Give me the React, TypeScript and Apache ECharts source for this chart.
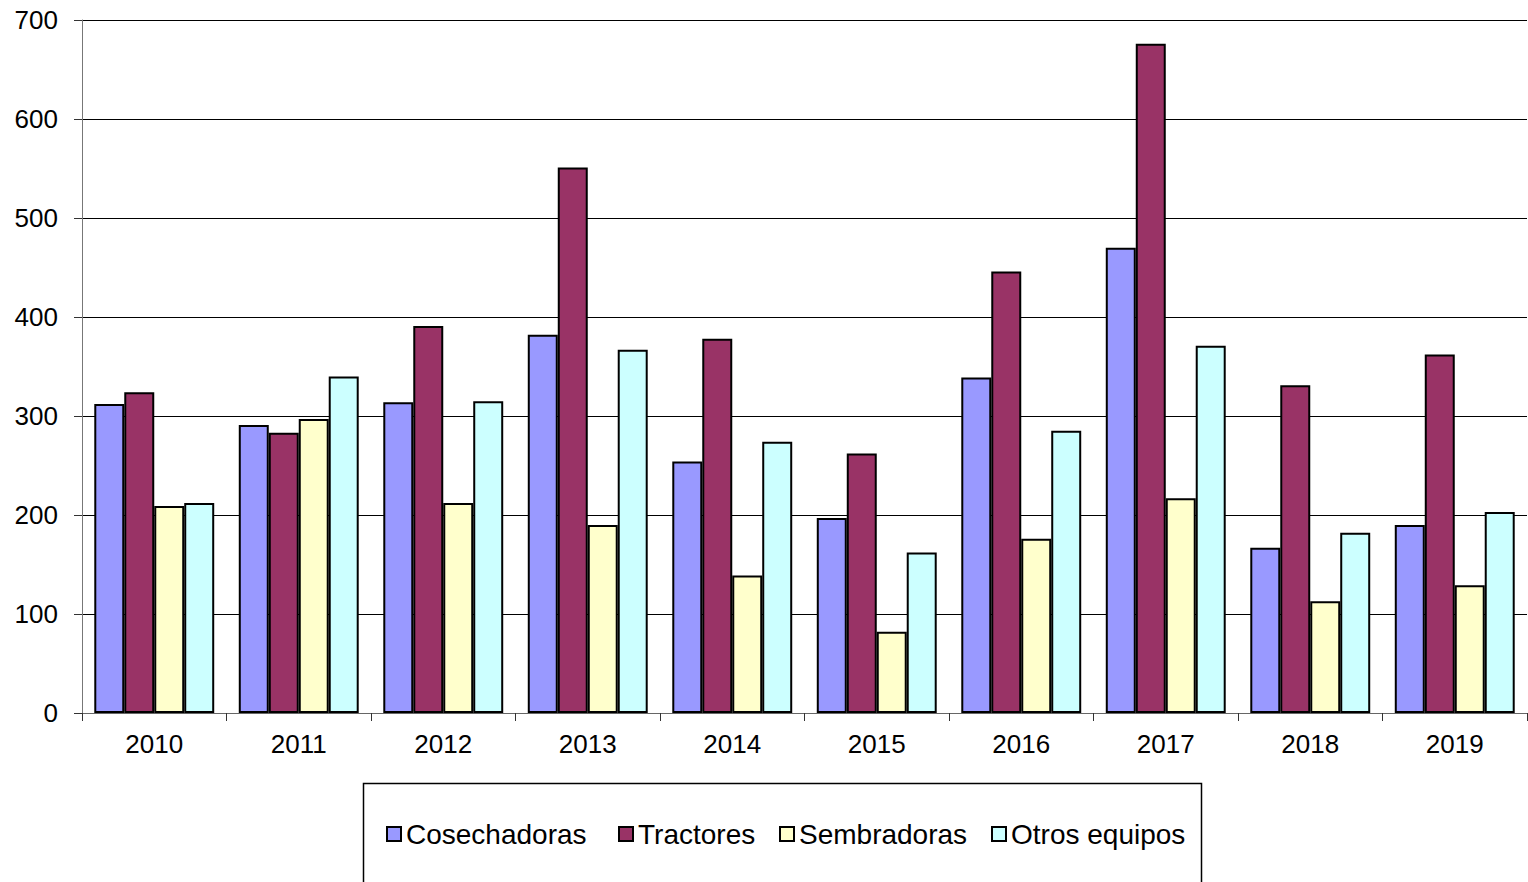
import React, { useEffect, useRef } from "react";
import * as echarts from "echarts";

const years = ["2010", "2011", "2012", "2013", "2014", "2015", "2016", "2017", "2018", "2019"];
const cosechadoras = [312, 291, 314, 382, 254, 197, 339, 470, 167, 190];
const tractores = [324, 283, 391, 551, 378, 262, 446, 676, 331, 362];
const sembradoras = [209, 297, 212, 190, 139, 82, 176, 217, 113, 129];
const otros = [212, 340, 315, 367, 274, 162, 285, 371, 182, 203];

const seriesNames = ["Cosechadoras", "Tractores", "Sembradoras", "Otros equipos"];
const seriesData = [cosechadoras, tractores, sembradoras, otros];
const colors = ["#9999FF", "#993366", "#FFFFCC", "#CCFFFF"];
const legendLefts = [381, 613, 774, 986];

export default function App() {
  const ref = useRef<HTMLDivElement>(null);
  useEffect(() => {
    if (!ref.current) return;
    const chart = echarts.init(ref.current, undefined, { renderer: "svg" });
    const font = "'Liberation Sans', Arial, sans-serif";
    chart.setOption({
      animation: false,
      backgroundColor: "#ffffff",
      textStyle: { fontFamily: font },
      grid: { left: 82, top: 20, right: 1, bottom: 169, containLabel: false },
      legend: seriesNames.map((n, i) => ({
        left: legendLefts[i],
        top: 815,
        itemWidth: 14,
        itemHeight: 14,
        itemGap: 0,
        icon: "rect",
        textStyle: { fontSize: 28, color: "#000", fontFamily: font },
        data: [n],
      })),
      graphic: [
        {
          type: "rect",
          shape: { x: 363.5, y: 783.5, width: 838, height: 120 },
          style: { fill: "none", stroke: "#000", lineWidth: 1.5 },
          silent: true,
        },
      ],
      xAxis: {
        type: "category",
        data: years,
        axisLine: { show: true, lineStyle: { color: "#666", width: 1 } },
        axisTick: { show: true, length: 8, lineStyle: { color: "#333" } },
        axisLabel: { fontSize: 26, color: "#000", margin: 18, fontFamily: font },
      },
      yAxis: {
        type: "value",
        min: 0,
        max: 700,
        interval: 100,
        axisLine: { show: true, lineStyle: { color: "#777", width: 1 } },
        axisTick: { show: true, length: 8, lineStyle: { color: "#333" } },
        axisLabel: { fontSize: 26, color: "#000", margin: 24, fontFamily: font },
        splitLine: { show: true, lineStyle: { color: "#000", width: 1 } },
      },
      series: seriesData.map((d, i) => ({
        name: seriesNames[i],
        type: "bar",
        data: d,
        barGap: "0%",
        barCategoryGap: "17%",
        itemStyle: { color: colors[i], borderColor: "#000", borderWidth: 2 },
      })),
    });
    return () => chart.dispose();
  }, []);
  return (
    <div
      ref={ref}
      style={{ position: "fixed", left: 0, top: 0, width: 1528, height: 882 }}
    />
  );
}
